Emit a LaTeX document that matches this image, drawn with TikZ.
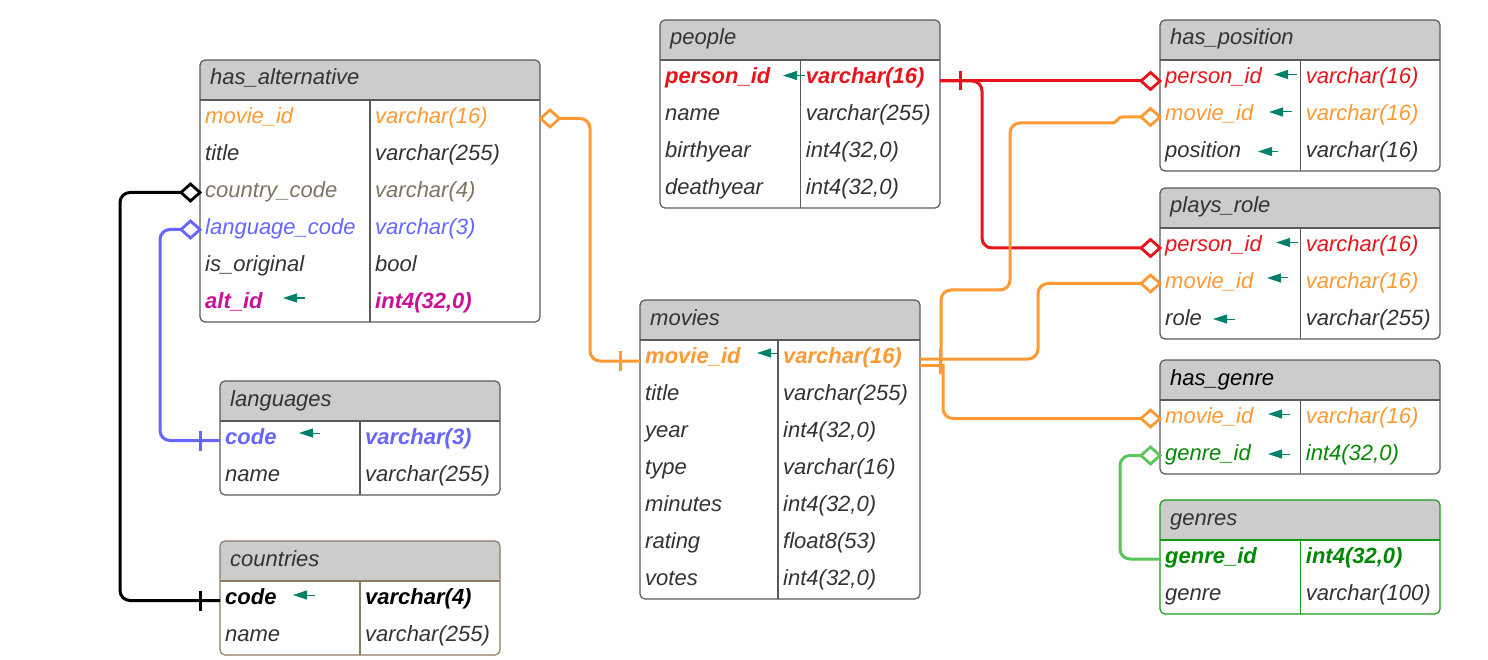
\documentclass[tikz,border=0pt]{standalone}
\usepackage{fontspec}
\setmainfont{Liberation Sans}
\usetikzlibrary{arrows.meta,shapes.geometric}

\definecolor{headgray}{HTML}{CCCCCC}
\definecolor{framegray}{HTML}{5A5A5A}
\definecolor{txtgray}{HTML}{333333}
\definecolor{orangeK}{HTML}{FF9933}
\definecolor{redK}{HTML}{E8141B}
\definecolor{brownK}{HTML}{7F7462}
\definecolor{blueK}{HTML}{6666FF}
\definecolor{magK}{HTML}{CC1199}
\definecolor{greenK}{HTML}{008800}
\definecolor{greenC}{HTML}{5CC45C}
\definecolor{tealK}{HTML}{00806A}
\definecolor{brownF}{HTML}{8C7B65}
\definecolor{greenF}{HTML}{1A9A1A}

\tikzset{
  frame/.style={draw=framegray, line width=1.2pt},
  fld/.style={inner sep=0pt, anchor=base west, text=txtgray,
              font=\fontsize{22}{26}\selectfont\itshape},
  key/.style={fld, font=\fontsize{22}{26}\selectfont\itshape\bfseries},
  conn/.style={line width=3pt, rounded corners=10pt},
  onebar/.style={line width=3pt},
  fk/.style={diamond, draw, fill=white, line width=2.8pt, inner sep=0pt,
             outer sep=0pt, minimum width=19pt, minimum height=17pt},
  pkarrow/.style={draw=tealK, line width=1pt, -{Triangle[length=14pt,width=9pt]}},
}

% table frame: id, left, top, right, column divider, rows, title, frame options
\newcommand{\erdbox}[8]{%
  \pgfmathsetmacro{\erdbot}{#3+40+37*#6}%
  \begin{scope}
    \clip[rounded corners=5pt] (#2,#3) rectangle (#4,\erdbot);
    \fill[white] (#2,#3) rectangle (#4,\erdbot);
    \fill[headgray] (#2,#3) rectangle (#4,#3+40);
  \end{scope}
  \draw[frame,#8] (#2,#3+40) -- (#4,#3+40) (#5,#3+40) -- (#5,\erdbot);
  \draw[frame,#8,rounded corners=5pt] (#2,#3) rectangle (#4,\erdbot);
  \node[fld] (#1) at (#2+10,#3+25) {#7};
}
% table row: id, left, top, divider, index, style, name, type
\newcommand{\erdrow}[8]{%
  \pgfmathsetmacro{\erdy}{#3+40+37*(#5+0.5)+5}%
  \node[#6] (#1) at (#2+5,\erdy) {#7};
  \node[#6] (#1-type) at (#4+5,\erdy) {#8};
}

\begin{document}
\begin{tikzpicture}[x=1pt,y=-1pt]
\fill[white] (0,0) rectangle (1488,660);
\useasboundingbox (0,0) rectangle (1488,660);

% ---------- people ----------
\erdbox{people}{660}{20}{940}{800.7}{4}{people}{}
\erdrow{pe-pid}{660}{20}{800.7}{0}{key,text=redK}{person\_id}{varchar(16)}
\erdrow{pe-name}{660}{20}{800.7}{1}{fld}{name}{varchar(255)}
\erdrow{pe-by}{660}{20}{800.7}{2}{fld}{birthyear}{int4(32,0)}
\erdrow{pe-dy}{660}{20}{800.7}{3}{fld}{deathyear}{int4(32,0)}
\draw[pkarrow] (805,75.5) -- (783,75.5);

% ---------- has_alternative ----------
\erdbox{hasalt}{200}{60}{540}{370}{6}{has\_alternative}{}
\erdrow{ha-mid}{200}{60}{370}{0}{fld,text=orangeK}{movie\_id}{varchar(16)}
\erdrow{ha-title}{200}{60}{370}{1}{fld}{title}{varchar(255)}
\erdrow{ha-cc}{200}{60}{370}{2}{fld,text=brownK}{country\_code}{varchar(4)}
\erdrow{ha-lc}{200}{60}{370}{3}{fld,text=blueK}{language\_code}{varchar(3)}
\erdrow{ha-orig}{200}{60}{370}{4}{fld}{is\_original}{bool}
\erdrow{ha-aid}{200}{60}{370}{5}{key,text=magK}{alt\_id}{int4(32,0)}
\draw[pkarrow] (305,298) -- (283,298);

% ---------- languages ----------
\erdbox{languages}{220}{381}{500}{360}{2}{languages}{}
\erdrow{la-code}{220}{381}{360}{0}{key,text=blueK}{code}{varchar(3)}
\erdrow{la-name}{220}{381}{360}{1}{fld}{name}{varchar(255)}
\draw[pkarrow] (320,433) -- (299,433);

% ---------- countries ----------
\erdbox{countries}{220}{541}{500}{360}{2}{countries}{draw=brownF}
\erdrow{co-code}{220}{541}{360}{0}{key,text=black}{code}{varchar(4)}
\erdrow{co-name}{220}{541}{360}{1}{fld}{name}{varchar(255)}
\draw[pkarrow] (315,595) -- (293,595);

% ---------- movies ----------
\erdbox{movies}{640}{300}{920}{778}{7}{movies}{}
\erdrow{mv-mid}{640}{300}{778}{0}{key,text=orangeK}{movie\_id}{varchar(16)}
\erdrow{mv-title}{640}{300}{778}{1}{fld}{title}{varchar(255)}
\erdrow{mv-year}{640}{300}{778}{2}{fld}{year}{int4(32,0)}
\erdrow{mv-type}{640}{300}{778}{3}{fld}{type}{varchar(16)}
\erdrow{mv-min}{640}{300}{778}{4}{fld}{minutes}{int4(32,0)}
\erdrow{mv-rat}{640}{300}{778}{5}{fld}{rating}{float8(53)}
\erdrow{mv-votes}{640}{300}{778}{6}{fld}{votes}{int4(32,0)}
\draw[pkarrow] (777,353) -- (757,353);

% ---------- has_position ----------
\erdbox{haspos}{1160}{20}{1440}{1300.7}{3}{has\_position}{}
\erdrow{hp-pid}{1160}{20}{1300.7}{0}{fld,text=redK}{person\_id}{varchar(16)}
\erdrow{hp-mid}{1160}{20}{1300.7}{1}{fld,text=orangeK}{movie\_id}{varchar(16)}
\erdrow{hp-pos}{1160}{20}{1300.7}{2}{fld}{position}{varchar(16)}
\draw[pkarrow] (1297,74.5) -- (1274,74.5);
\draw[pkarrow] (1292,112) -- (1269,112);
\draw[pkarrow] (1278,151.5) -- (1258,151.5);

% ---------- plays_role ----------
\erdbox{playsrole}{1160}{188}{1440}{1300.7}{3}{plays\_role}{}
\erdrow{pr-pid}{1160}{188}{1300.7}{0}{fld,text=redK}{person\_id}{varchar(16)}
\erdrow{pr-mid}{1160}{188}{1300.7}{1}{fld,text=orangeK}{movie\_id}{varchar(16)}
\erdrow{pr-role}{1160}{188}{1300.7}{2}{fld}{role}{varchar(255)}
\draw[pkarrow] (1298,242.5) -- (1276,242.5);
\draw[pkarrow] (1288,278) -- (1267,278);
\draw[pkarrow] (1235,319) -- (1213,319);

% ---------- has_genre ----------
\erdbox{hasgenre}{1160}{360}{1440}{1300.7}{2}{\textcolor{black}{has\_genre}}{}
\erdrow{hg-mid}{1160}{360}{1300.7}{0}{fld,text=orangeK}{movie\_id}{varchar(16)}
\erdrow{hg-gid}{1160}{360}{1300.7}{1}{fld,text=greenK}{genre\_id}{int4(32,0)}
\draw[pkarrow] (1290,414) -- (1268,414);
\draw[pkarrow] (1290,454) -- (1268,454);

% ---------- genres ----------
\erdbox{genres}{1160}{500}{1440}{1300.7}{2}{genres}{draw=greenF}
\erdrow{ge-gid}{1160}{500}{1300.7}{0}{key,text=greenK}{genre\_id}{int4(32,0)}
\erdrow{ge-genre}{1160}{500}{1300.7}{1}{fld}{genre}{varchar(100)}

% ---------- relationship end points ----------
\coordinate (pe-pid-e) at (940,81);
\coordinate (mv-mid-w) at (640,361);
\coordinate (mv-mid-e) at (920,359);
\coordinate (mv-mid-e2) at (920,365);
\coordinate (mv-bar) at (941,362);
\coordinate (la-code-w) at (220,440.5);
\coordinate (co-code-w) at (220,600.5);
\coordinate (ge-gid-w) at (1160,559);

\node[fk, draw=redK] (hp-pid-d) at (1150.5,81) {};
\node[fk, draw=redK] (pr-pid-d) at (1150.5,248) {};
\node[fk, draw=orangeK] (ha-mid-d) at (550,118.5) {};
\node[fk, draw=orangeK] (hp-mid-d) at (1150.5,117) {};
\node[fk, draw=orangeK] (pr-mid-d) at (1150.5,283.5) {};
\node[fk, draw=orangeK] (hg-mid-d) at (1150.5,418.5) {};
\node[fk, draw=black] (ha-cc-d) at (190.5,192.5) {};
\node[fk, draw=blueK] (ha-lc-d) at (190.5,229.5) {};
\node[fk, draw=greenC] (hg-gid-d) at (1150.5,455.5) {};

% people.person_id -> has_position, plays_role
\draw[conn, redK] (pe-pid-e) -- (hp-pid-d.west);
\draw[conn, redK] (pe-pid-e) -- (982,81) |- (pr-pid-d.west);
\draw[onebar, redK] (pe-pid-e) ++(20,-9.5) -- ++(0,19);

% movies.movie_id -> has_alternative
\draw[conn, orangeK] (ha-mid-d.east) -- (590,118.5) |- (mv-mid-w);
\draw[onebar, orangeK] (mv-mid-w) ++(-20,-10) -- ++(0,20);

% movies.movie_id -> has_position, plays_role, has_genre
\draw[onebar, orangeK] (mv-mid-e2) -- (943,365);
\draw[conn, orangeK] (mv-bar) -- (941,290) -- (1010,290)
  -- (1010,123) -- (1113,123);
\draw[line width=3pt, orangeK] (1112,123) .. controls (1118,123) and (1116,117) .. (1123,117)
  -- (hp-mid-d.west);
\draw[conn, orangeK] (mv-mid-e) -- (1038,359) |- (pr-mid-d.west);
\draw[conn, orangeK] (943,363.5) |- (hg-mid-d.west);
\draw[onebar, orangeK] (mv-bar) ++(-1,-13) -- ++(0,25);

% languages.code -> has_alternative.language_code
\draw[conn, blueK] (ha-lc-d.west) -- (160,229.5) |- (la-code-w);
\draw[onebar, blueK] (la-code-w) ++(-20,-10) -- ++(0,20);

% countries.code -> has_alternative.country_code
\draw[conn, black] (ha-cc-d.west) -- (120,192.5) |- (co-code-w);
\draw[onebar, black] (co-code-w) ++(-20,-10) -- ++(0,20);

% genres.genre_id -> has_genre.genre_id
\draw[conn, greenC] (hg-gid-d.west) -- (1120,455.5) |- (ge-gid-w);
\end{tikzpicture}
\end{document}
